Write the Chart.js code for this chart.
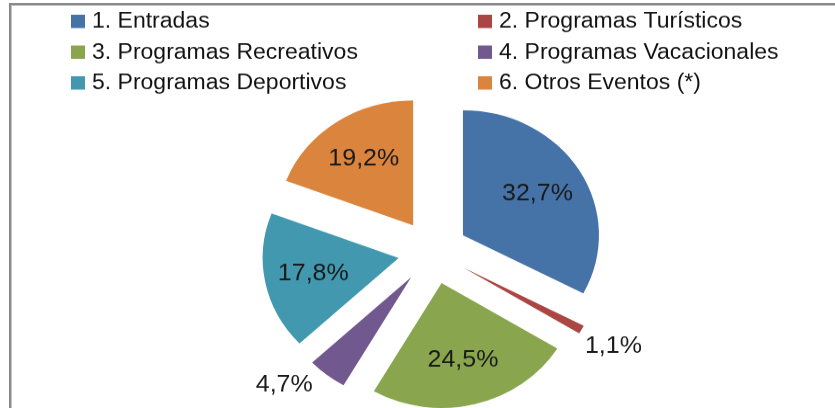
<!DOCTYPE html>
<html>
<head>
<meta charset="utf-8">
<script src="https://cdn.jsdelivr.net/npm/chart.js@4.4.0/dist/chart.umd.min.js"></script>
<style>
  html, body { margin: 0; padding: 0; background: #fff; overflow: hidden; }
  #wrap { position: relative; width: 835px; height: 408px; }
  #pie { position: absolute; left: 0; top: 0; }
  #marco { position: absolute; left: 9px; top: 3px; right: -10px; bottom: -10px;
           border-top: 2px solid #8a8a8a; border-left: 2px solid #8a8a8a;
           box-shadow: inset 1px 1px 0 #c4c4c4; pointer-events: none; }
</style>
</head>
<body>
<div id="wrap">
  <canvas id="pie" width="835" height="444" style="width:835px;height:408px"></canvas>
  <div id="marco"></div>
</div>
<script>
// -----------------------------
// datos del gráfico
// -----------------------------
const categorias = [
  "1. Entradas",
  "2. Programas Turísticos",
  "3. Programas Recreativos",
  "4. Programas Vacacionales",
  "5. Programas Deportivos",
  "6. Otros Eventos (*)"
];
const porcentajes = [32.7, 1.1, 24.5, 4.7, 17.8, 19.2];
const colores = ["#4572A7", "#AA4643", "#89A54E", "#71588F", "#4198AF", "#DB843D"];

const EXPLODE = 35; // separación de las porciones
const RADIO = 136;

function fmt(v) {
  return v.toFixed(1).replace(".", ",") + "%";
}

// porciones separadas + etiquetas + leyenda en dos columnas
const piePlugin = {
  id: "pieExtras",
  beforeDatasetDraw(chart, args) {
    const ctx = chart.ctx;
    args.meta.data.forEach(arc => {
      const mid = (arc.startAngle + arc.endAngle) / 2;
      ctx.save();
      ctx.translate(Math.cos(mid) * EXPLODE, Math.sin(mid) * EXPLODE);
      arc.draw(ctx);
      ctx.restore();
    });
    return false; // ya dibujado
  },
  afterDatasetsDraw(chart) {
    const ctx = chart.ctx;
    const meta = chart.getDatasetMeta(0);
    const yMax = chart.height - 25;
    ctx.save();
    ctx.font = "25px 'Liberation Sans', Arial, sans-serif";
    ctx.fillStyle = "#1a1a1a";
    ctx.textAlign = "center";
    ctx.textBaseline = "middle";
    meta.data.forEach((arc, i) => {
      const v = porcentajes[i];
      const d = EXPLODE + arc.outerRadius * (v < 5 ? 1.27 : 0.64);
      let ang = (arc.startAngle + arc.endAngle) / 2;
      // etiqueta exterior que se sale por abajo: la deslizo sobre el círculo
      if (arc.y + Math.sin(ang) * d > yMax) {
        const s = Math.asin((yMax - arc.y) / d);
        ang = Math.cos(ang) < 0 ? Math.PI - s : s;
      }
      ctx.fillText(fmt(v), arc.x + Math.cos(ang) * d, arc.y + Math.sin(ang) * d);
    });
    ctx.restore();
  },
  afterDraw(chart) {
    const ctx = chart.ctx;
    ctx.save();
    ctx.font = "23px 'Liberation Sans', Arial, sans-serif";
    ctx.textBaseline = "alphabetic";
    categorias.forEach((c, i) => {
      const x = [71, 478][i % 2];
      const base = 30 + Math.floor(i / 2) * 33.5;
      ctx.fillStyle = colores[i];
      ctx.fillRect(x, base - 14, 14, 14.5);
      ctx.fillStyle = "#111";
      ctx.fillText(c, x + 21, base);
    });
    ctx.restore();
  }
};

new Chart(document.getElementById("pie"), {
  type: "pie",
  data: {
    labels: categorias,
    datasets: [{
      data: porcentajes,
      backgroundColor: colores,
      borderWidth: 0
    }]
  },
  options: {
    responsive: false,
    animation: false,
    events: [],
    radius: RADIO,
    layout: { padding: { left: 31, top: 104, right: 0, bottom: 0 } },
    plugins: {
      legend: { display: false },
      tooltip: { enabled: false }
    }
  },
  plugins: [piePlugin]
});
</script>
</body>
</html>
